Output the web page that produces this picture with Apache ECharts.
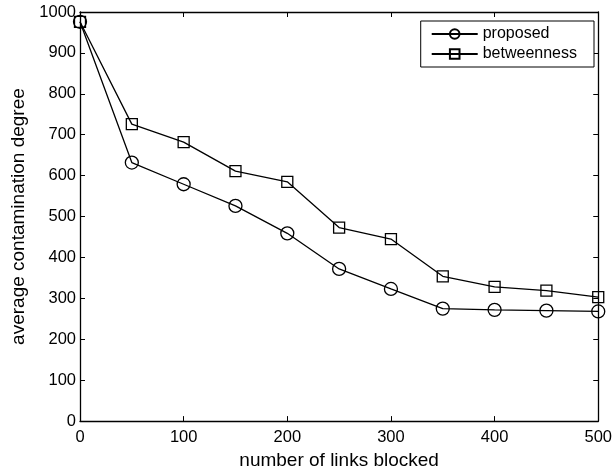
<!DOCTYPE html>
<html>
<head>
<meta charset="utf-8">
<script src="https://cdn.jsdelivr.net/npm/echarts@6/dist/echarts.min.js"></script>
<style>
  html, body { margin: 0; padding: 0; background: #fff; }
  #chart { width: 615px; height: 475px; }
</style>
</head>
<body>
<div id="chart"></div>
<script>
// Number of links blocked (x) and the resulting average contamination degree
var linksBlocked = [0, 50, 100, 150, 200, 250, 300, 350, 400, 450, 500];
var proposed     = [976, 632, 579, 526, 459, 372, 323, 275, 272, 270, 268];
var betweenness  = [976, 726, 682, 611, 585, 473, 445, 354, 328, 319, 303];
var seriesNames  = ['proposed', 'betweenness'];

var FONT = 'Liberation Sans, Arial, Helvetica, sans-serif';
var TICK_FS = 16.5;
var NAME_FS = 19;
var LEGEND_FS = 16;

function pairs(xs, ys) {
  return xs.map(function (x, i) { return [x, ys[i]]; });
}
function plain(v) { return String(v); }

var axisLine = { show: true, onZero: false, lineStyle: { color: '#000', width: 1.3 } };
var tickIn = { show: true, inside: true, length: 5, lineStyle: { color: '#000', width: 1 } };

var chart = echarts.init(document.getElementById('chart'), null, { renderer: 'canvas' });

chart.setOption({
  backgroundColor: '#fff',
  animation: false,
  grid: { left: 80, right: 14, top: 12, bottom: 52, containLabel: false },
  legend: {
    data: seriesNames,
    right: 21,
    top: 21,
    orient: 'vertical',
    align: 'left',
    itemWidth: 46,
    itemHeight: 12,
    itemGap: 4,
    padding: [5, 17, 5, 10],
    borderColor: '#000',
    borderWidth: 1,
    borderRadius: 0,
    backgroundColor: '#fff',
    textStyle: { fontFamily: FONT, fontSize: LEGEND_FS, color: '#000' }
  },
  xAxis: [{
    type: 'value',
    min: 0, max: 500, interval: 100,
    name: 'number of links blocked',
    nameLocation: 'middle',
    nameGap: 27,
    nameTextStyle: { fontFamily: FONT, fontSize: NAME_FS, color: '#000' },
    axisLine: axisLine,
    axisTick: tickIn,
    axisLabel: { fontFamily: FONT, fontSize: TICK_FS, color: '#000', margin: 8, formatter: plain },
    splitLine: { show: false }
  }, {
    type: 'value',
    position: 'top',
    min: 0, max: 500, interval: 100,
    axisLine: axisLine,
    axisTick: tickIn,
    axisLabel: { show: false },
    splitLine: { show: false }
  }],
  yAxis: [{
    type: 'value',
    min: 0, max: 1000, interval: 100,
    name: 'average contamination degree',
    nameLocation: 'middle',
    nameGap: 52,
    nameTextStyle: { fontFamily: FONT, fontSize: NAME_FS, color: '#000' },
    axisLine: axisLine,
    axisTick: tickIn,
    axisLabel: { fontFamily: FONT, fontSize: TICK_FS, color: '#000', margin: 4, formatter: plain },
    splitLine: { show: false }
  }, {
    type: 'value',
    position: 'right',
    min: 0, max: 1000, interval: 100,
    axisLine: axisLine,
    axisTick: tickIn,
    axisLabel: { show: false },
    splitLine: { show: false }
  }],
  series: [{
    name: seriesNames[0],
    type: 'line',
    data: pairs(linksBlocked, proposed),
    symbol: 'circle',
    symbolSize: 13,
    showAllSymbol: true,
    lineStyle: { color: '#000', width: 1.3 },
    itemStyle: { color: 'rgba(255,255,255,0)', borderColor: '#000', borderWidth: 1.3 },
    z: 3
  }, {
    name: seriesNames[1],
    type: 'line',
    data: pairs(linksBlocked, betweenness),
    symbol: 'rect',
    symbolSize: 11,
    showAllSymbol: true,
    lineStyle: { color: '#000', width: 1.3 },
    itemStyle: { color: 'rgba(255,255,255,0)', borderColor: '#000', borderWidth: 1.3 },
    z: 3
  }]
});
</script>
</body>
</html>
